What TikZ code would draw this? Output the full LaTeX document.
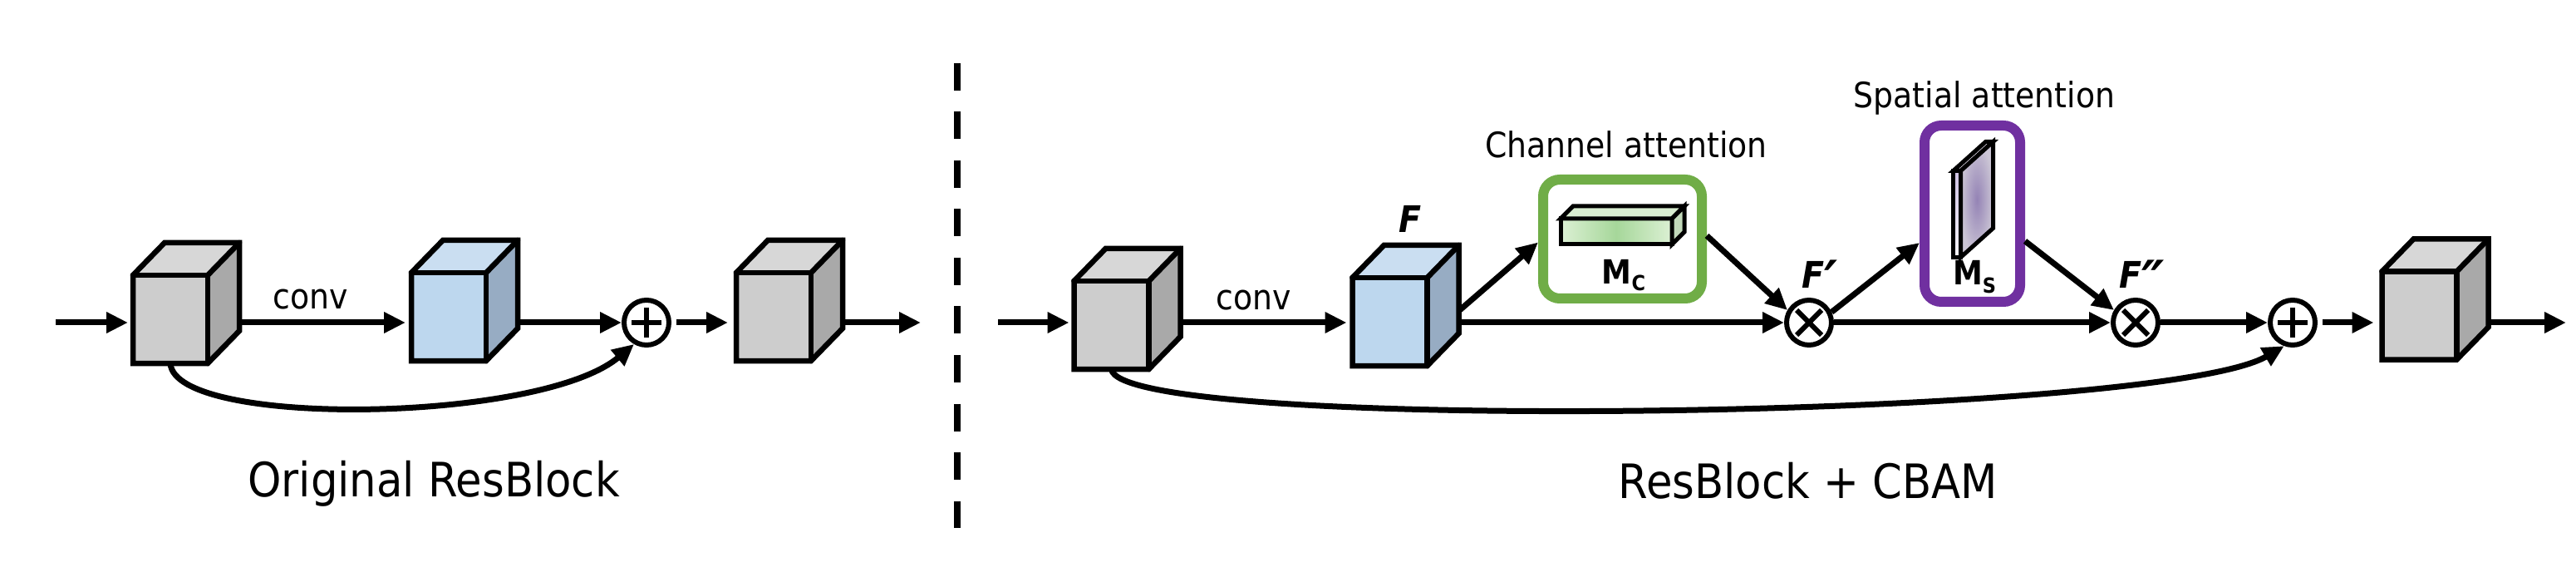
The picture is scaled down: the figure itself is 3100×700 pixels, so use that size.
\documentclass[tikz,border=0pt]{standalone}
\usepackage{fontspec}
\setmainfont{DejaVu Sans}[FakeStretch=0.9]
\usetikzlibrary{arrows.meta,calc}

\definecolor{gfront}{HTML}{CDCDCD}
\definecolor{gtop}{HTML}{D7D7D7}
\definecolor{gside}{HTML}{A9A9A9}
\definecolor{bfront}{HTML}{BDD7EE}
\definecolor{btop}{HTML}{CADEF1}
\definecolor{bside}{HTML}{97ACC3}
\definecolor{cagreen}{HTML}{70AD47}
\definecolor{sapurple}{HTML}{7030A0}
\definecolor{mcend}{HTML}{DCF0D4}
\definecolor{mcmid}{HTML}{A6D79A}
\definecolor{mctop}{HTML}{D8EDD0}
\definecolor{mcside}{HTML}{C2D9BA}
\definecolor{msfronttop}{HTML}{CFC2E3}
\definecolor{msfrontbot}{HTML}{F8F6FB}
\definecolor{mstop}{HTML}{EEE8F6}
\definecolor{msin}{HTML}{9483B5}
\definecolor{msout}{HTML}{CBC5D5}

% top and side faces of a cube whose front face is node #1
\newcommand\cubesides[3]{%
  \fill[#2] (#1.north west) -- ($(#1.north west)+(38,-39)$) -- ($(#1.north east)+(38,-39)$) -- (#1.north east) -- cycle;
  \fill[#3] (#1.north east) -- ($(#1.north east)+(38,-39)$) -- ($(#1.south east)+(38,-39)$) -- (#1.south east) -- cycle;
  \draw[cubeline] (#1.north west) -- ($(#1.north west)+(38,-39)$) -- ($(#1.north east)+(38,-39)$) -- ($(#1.south east)+(38,-39)$) -- (#1.south east) -- (#1.south west) -- cycle;
  \draw[cubeline] (#1.north west) -- (#1.north east) -- (#1.south east);
  \draw[cubeline] (#1.north east) -- ($(#1.north east)+(38,-39)$);
  \coordinate (#1r) at ($(#1.east)+(38,0)$);
}
\newcommand\bigprime[1]{\raisebox{-16pt}{\fontsize{68pt}{68pt}\selectfont #1}}

\begin{document}
\begin{tikzpicture}[x=1pt,y=-1pt,
  cubefront/.style={rectangle, minimum width=90pt, minimum height=106pt, inner sep=0pt, outer sep=0pt},
  cubeline/.style={draw, line width=6.5pt, line join=miter, line cap=round},
  arr/.style={line width=7pt, -{Triangle[length=26pt,width=24pt]}},
  opcircle/.style={circle, draw, line width=6pt, minimum size=54pt, inner sep=0pt, fill=white},
  oplines/.style={line width=6pt},
  attbox/.style={draw, line width=12pt, rounded corners=20pt, rectangle, inner sep=0pt},
  lab/.style={anchor=base, inner sep=0pt},
  smalltxt/.style={font=\fontsize{42pt}{48pt}\selectfont},
  bigtxt/.style={font=\fontsize{57pt}{64pt}\selectfont},
  flab/.style={font=\fontsize{44pt}{48pt}\selectfont\bfseries\itshape},
  slab/.style={line width=5pt, line join=miter},
]
\useasboundingbox (0,0) rectangle (3100,700);
\fill[white] (0,0) rectangle (3100,700);

% ---------------- left: original ResBlock ----------------
\coordinate (inL) at (67,388);
\coordinate (outL) at (1108,388);
\node[cubefront, fill=gfront] (L1) at (205,384) {};
\cubesides{L1}{gtop}{gside}
\node[cubefront, fill=bfront] (L2) at (540,381) {};
\cubesides{L2}{btop}{bside}
\node[opcircle] (plusL) at (778,388) {};
\draw[oplines] ($(plusL)+(-18,0)$) -- ($(plusL)+(18,0)$) ($(plusL)+(0,-18)$) -- ($(plusL)+(0,18)$);
\node[cubefront, fill=gfront] (L3) at (931,381) {};
\cubesides{L3}{gtop}{gside}

\draw[arr, shorten >=6pt] (inL) -- (L1.west |- inL);
\draw[arr, shorten >=7pt] (L1r |- inL) -- (L2.west |- inL);
\node[lab, smalltxt] (convL) at (374,372) {conv};
\draw[arr] (L2r |- plusL) -- (plusL.west);
\draw[arr, shorten <=6pt, shorten >=10pt] (plusL.east) -- (L3.west |- plusL);
\draw[arr] (L3r |- plusL) -- (outL);
\draw[arr] (L1.south) .. controls +(5,78) and +(-113,95) .. (plusL.240);

\node[lab, bigtxt] (tL) at (522,597) {Original ResBlock};

% ---------------- divider ----------------
\coordinate (divtop) at (1152,76);
\coordinate (divbot) at (1152,635);
\draw[line width=8pt, dash pattern=on 33pt off 25.5pt] (divtop) -- (divbot);

% ---------------- right: ResBlock + CBAM ----------------
\coordinate (inR) at (1201,388);
\coordinate (outR) at (3088,388);
\node[cubefront, fill=gfront] (R1) at (1337.5,391) {};
\cubesides{R1}{gtop}{gside}
\node[cubefront, fill=bfront] (F) at (1672.5,387) {};
\cubesides{F}{btop}{bside}
\node[opcircle] (ot1) at (2177,388) {};
\draw[oplines] ($(ot1)+(-15,-15)$) -- ($(ot1)+(15,15)$) ($(ot1)+(-15,15)$) -- ($(ot1)+(15,-15)$);
\node[opcircle] (ot2) at (2570,388) {};
\draw[oplines] ($(ot2)+(-15,-15)$) -- ($(ot2)+(15,15)$) ($(ot2)+(-15,15)$) -- ($(ot2)+(15,-15)$);
\node[opcircle] (plusR) at (2759,388) {};
\draw[oplines] ($(plusR)+(-18,0)$) -- ($(plusR)+(18,0)$) ($(plusR)+(0,-18)$) -- ($(plusR)+(0,18)$);
\node[cubefront, fill=gfront] (R3) at (2911.5,379.5) {};
\cubesides{R3}{gtop}{gside}

% channel attention box
\node[attbox, draw=cagreen, minimum width=191pt, minimum height=143pt] (gbox) at (1952.5,287.5) {};
\shade[left color=mcend, right color=mcend, middle color=mcmid] (1878,263) rectangle (2012,294);
\draw[slab] (1878,263) rectangle (2012,294);
\draw[slab, fill=mctop] (1878,263) -- (1893,248) -- (2027,248) -- (2012,263) -- cycle;
\draw[slab, fill=mcside] (2012,263) -- (2027,248) -- (2027,279) -- (2012,294) -- cycle;
\node[lab, font=\fontsize{40pt}{44pt}\selectfont\bfseries] (mc) at (1954,342) {M\raisebox{-8pt}{\fontsize{25pt}{28pt}\selectfont C}};
\node[lab, smalltxt] (tca) at (1957,190) {Channel attention};

% spatial attention box
\node[attbox, draw=sapurple, minimum width=115pt, minimum height=212pt] (pbox) at (2373.5,257) {};
\shade[top color=msfronttop, bottom color=msfrontbot] (2350.5,205.5) rectangle (2359.5,309.5);
\draw[slab] (2350.5,205.5) rectangle (2359.5,309.5);
\draw[slab, fill=mstop] (2350.5,205.5) -- (2389.5,170.5) -- (2398.5,170.5) -- (2359.5,205.5) -- cycle;
\shade[inner color=msin, outer color=msout] (2359.5,205.5) -- (2398.5,170.5) -- (2398.5,274.5) -- (2359.5,309.5) -- cycle;
\draw[slab] (2359.5,205.5) -- (2398.5,170.5) -- (2398.5,274.5) -- (2359.5,309.5) -- cycle;
\node[lab, font=\fontsize{40pt}{44pt}\selectfont\bfseries] (ms) at (2376,343) {M\raisebox{-10pt}{\fontsize{25pt}{28pt}\selectfont S}};
\node[lab, smalltxt] (tsa) at (2388,130) {Spatial attention};

% labels
\node[lab, flab] (Fl) at (1697,280) {F};
\node[lab, flab] (F1l) at (2190,347) {F\bigprime{′}};
\node[lab, flab] (F2l) at (2578,347) {F\bigprime{″}};

% connectors
\draw[arr, shorten >=6pt] (inR) -- (R1.west |- inR);
\draw[arr, shorten >=7pt] (R1r |- inR) -- (F.west |- inR);
\node[lab, smalltxt] (convR) at (1509,373) {conv};
\draw[arr] (Fr |- ot1) -- (ot1.west);
\draw[arr] ($(Fr)+(0,-13)$) -- ([yshift=-4pt]gbox.west);
\draw[arr] ([yshift=4pt]gbox.east) -- (ot1.150);
\draw[arr] (ot1.25) -- ([yshift=-35pt]pbox.west);
\draw[arr] (ot1.east) -- (ot2.west);
\draw[arr] ([yshift=-33pt]pbox.east) -- (ot2.150);
\draw[arr] (ot2.east) -- (plusR.west);
\draw[arr, shorten <=6pt, shorten >=10pt] (plusR.east) -- (R3.west |- plusR);
\draw[arr] (R3r |- plusR) -- (outR);
\draw[arr] (R1.south) .. controls +(8,78) and +(-150,88) .. (plusR.250);

\node[lab, bigtxt] (tR) at (2176,599) {ResBlock + CBAM};
\end{tikzpicture}
\end{document}
